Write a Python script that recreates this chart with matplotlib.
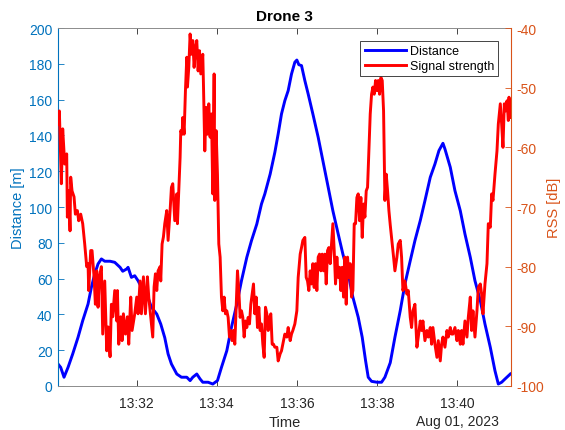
"""Drone 3: distance and signal strength over time (two y-axes)."""
import matplotlib
matplotlib.use('Agg')
import matplotlib.pyplot as plt
import matplotlib.dates as mdates
import matplotlib.transforms as mtransforms
import pandas as pd

plt.rcParams['font.family'] = ['Liberation Sans', 'DejaVu Sans']
plt.rcParams['axes.unicode_minus'] = False

base = pd.Timestamp('2023-08-01 13:30:00')

# Distance [m], time in seconds after 13:30:00
dist_t = [2, 6, 11, 17, 24, 32, 39, 47, 52, 57, 62, 67, 72, 80, 87, 95, 99, 105,
          107, 112, 117, 122, 127, 135, 142, 150, 156, 162, 167, 172, 180, 187,
          195, 200, 204, 210, 215, 219, 227, 234, 241, 247, 255, 262, 270, 277,
          285, 292, 300, 307, 312, 320, 327, 332, 337, 342, 347, 352, 357, 360,
          363, 367, 372, 377, 384, 392, 399, 407, 414, 422, 429, 437, 444, 452,
          458, 463, 467, 472, 480, 487, 492, 500, 507, 515, 522, 530, 537, 545,
          552, 560, 567, 573, 579, 582, 590, 597, 605, 612, 620, 627, 635, 642,
          650, 657, 662, 667, 672, 680]
dist_m = [12.3, 10.4, 4.9, 10.4, 17.9, 27.2, 36.5, 45.8, 55.1, 62.6, 68.2, 71.0,
          69.7, 69.7, 69.1, 66.3, 64.1, 65.4, 66.3, 60.7, 61.6, 58.8, 55.1, 51.4,
          44.0, 40.2, 34.6, 27.0, 17.9, 12.3, 6.7, 4.9, 4.9, 3.0, 4.9, 6.7, 3.9,
          2.1, 2.1, 1.1, 3.0, 10.4, 19.7, 32.8, 45.8, 58.8, 71.9, 81.2, 90.5,
          101.7, 107.3, 118.4, 130.5, 140.8, 152.0, 159.4, 165.0, 174.3, 180.9,
          182.1, 179.5, 179.0, 170.6, 163.1, 152.0, 138.9, 125.9, 111.0, 97.9,
          84.9, 73.7, 62.6, 49.6, 38.4, 27.2, 14.2, 4.9, 2.6, 2.1, 2.1, 4.9, 13.0,
          27.2, 42.1, 57.0, 70.0, 81.2, 92.4, 103.5, 116.6, 124.0, 131.5, 135.6,
          132.4, 122.2, 109.1, 97.9, 84.9, 71.9, 58.8, 47.7, 34.6, 21.6, 8.5,
          1.1, 2.1, 3.9, 6.7]

# Signal strength (RSS) [dB]
rss_t = [2, 4, 7, 9, 12, 15, 16, 18, 20, 21, 23, 26, 28, 31, 33, 36, 39, 42, 45,
         47, 48, 51, 53, 56, 58, 60, 62, 64, 67, 69, 72, 75, 77, 80, 82, 84, 87,
         90, 91, 93, 96, 98, 100, 103, 106, 108, 111, 113, 117, 120, 122, 125,
         127, 130, 133, 136, 138, 141, 144, 146, 148, 150, 152, 155, 156, 158,
         160, 162, 165, 167, 170, 172, 174, 177, 180, 181, 183, 185, 186, 188,
         189, 191, 193, 195, 196, 198, 200, 202, 204, 206, 208, 210, 212, 214,
         216, 219, 220, 222, 224, 226, 228, 230, 232, 234, 236, 237, 239, 241,
         243, 245, 247, 249, 251, 253, 255, 257, 259, 261, 263, 265, 267, 269,
         271, 273, 275, 277, 279, 281, 283, 285, 287, 289, 291, 293, 295, 297,
         299, 301, 303, 305, 307, 309, 311, 313, 315, 317, 319, 321, 323, 325,
         327, 330, 332, 335, 337, 339, 342, 345, 347, 350, 352, 354, 357, 360,
         362, 365, 367, 369, 372, 374, 376, 378, 380, 382, 384, 386, 388, 390,
         392, 394, 396, 398, 400, 402, 404, 406, 408, 410, 412, 414, 416, 418,
         420, 422, 424, 426, 428, 430, 432, 434, 436, 438, 440, 442, 444, 446,
         448, 450, 452, 454, 456, 458, 460, 462, 464, 466, 468, 470, 472, 474,
         476, 478, 480, 482, 484, 486, 488, 490, 492, 494, 496, 498, 500, 502,
         505, 507, 510, 512, 515, 517, 519, 522, 525, 527, 530, 532, 534, 537,
         540, 542, 545, 547, 549, 552, 555, 557, 560, 562, 564, 567, 570, 572,
         575, 577, 579, 582, 585, 587, 590, 592, 594, 597, 600, 602, 605, 607,
         609, 612, 615, 617, 620, 622, 624, 627, 630, 632, 635, 637, 639, 642,
         645, 647, 650, 652, 654, 657, 660, 662, 665, 667, 669, 671, 673, 675,
         677, 678, 681]
rss_db = [-56.1, -53.9, -66.1, -56.9, -62.8, -61.1, -71.7, -67.3, -74.0, -65.0,
          -67.3, -68.3, -71.2, -70.6, -72.3, -71.2, -72.8, -76.2, -80.0, -79.5,
          -84.0, -77.3, -77.3, -81.7, -86.3, -80.7, -86.8, -81.7, -80.0, -91.3,
          -82.4, -94.1, -90.1, -95.1, -86.3, -88.4, -84.0, -89.1, -84.0, -93.0,
          -88.4, -92.4, -87.9, -91.3, -88.4, -93.0, -85.1, -90.7, -87.9, -85.1,
          -87.9, -82.4, -87.9, -81.7, -87.9, -81.7, -85.1, -88.4, -91.8, -83.4,
          -81.2, -84.0, -80.7, -80.0, -82.4, -76.2, -75.0, -72.8, -70.6, -75.6,
          -70.6, -66.7, -66.1, -72.3, -67.8, -72.8, -67.3, -61.7, -57.2, -57.8,
          -55.0, -57.8, -50.5, -44.9, -49.9, -46.6, -41.0, -44.4, -42.1, -46.6,
          -43.2, -42.1, -47.2, -43.8, -47.7, -44.4, -49.4, -60.6, -53.3, -57.8,
          -52.7, -58.3, -54.4, -67.8, -47.7, -68.9, -57.2, -64.5, -76.2, -78.4,
          -85.1, -87.4, -85.1, -87.9, -87.4, -88.5, -91.8, -90.7, -92.4, -90.7,
          -93.0, -86.8, -80.7, -84.0, -88.5, -87.4, -88.5, -91.8, -89.1, -90.2,
          -88.5, -89.6, -86.3, -84.6, -82.9, -87.9, -85.1, -90.2, -86.8, -90.7,
          -89.6, -93.0, -95.2, -86.8, -87.9, -90.7, -88.5, -87.9, -93.0, -93.0,
          -93.5, -93.5, -95.8, -94.6, -94.1, -93.0, -91.3, -91.8, -90.2, -92.4,
          -91.3, -90.7, -89.6, -87.4, -81.8, -77.9, -76.8, -75.6, -75.1, -81.8,
          -82.4, -84.0, -80.7, -82.9, -79.5, -83.5, -79.5, -84.0, -78.4, -77.9,
          -80.7, -77.9, -80.7, -77.9, -82.9, -77.3, -76.8, -79.5, -76.2, -72.8,
          -77.3, -82.9, -78.4, -81.8, -80.1, -84.0, -80.1, -85.1, -78.4, -86.3,
          -78.4, -81.8, -79.5, -85.1, -84.0, -72.8, -72.8, -68.4, -67.8, -72.3,
          -68.4, -75.1, -69.5, -71.7, -67.3, -66.7, -60.6, -54.4, -51.1, -49.9,
          -51.1, -48.8, -50.5, -48.8, -51.1, -48.3, -48.8, -53.9, -68.9, -64.5,
          -67.3, -70.6, -73.0, -75.1, -78.4, -80.7, -78.4, -76.2, -75.6, -78.4,
          -84.0, -82.4, -84.6, -84.0, -88.5, -90.2, -87.4, -86.3, -93.5, -91.8,
          -89.1, -90.7, -89.1, -92.4, -90.7, -91.8, -90.2, -93.0, -90.2, -93.0,
          -95.2, -92.4, -95.8, -93.0, -91.8, -93.5, -90.7, -91.8, -90.2, -91.3,
          -91.3, -90.2, -92.4, -90.7, -93.0, -90.7, -93.0, -89.1, -91.8, -88.5,
          -85.1, -90.7, -87.4, -91.8, -87.4, -83.5, -82.9, -84.6, -87.9, -82.9,
          -79.5, -72.8, -73.4, -67.8, -68.9, -64.5, -60.6, -56.1, -52.7, -56.1,
          -60.0, -52.7, -53.9, -52.2, -55.5, -51.6, -55.0]

dist_time = base + pd.to_timedelta(dist_t, unit='s')
rss_time = base + pd.to_timedelta(rss_t, unit='s')

x_ticks = pd.to_datetime(['2023-08-01 13:32', '2023-08-01 13:34', '2023-08-01 13:36',
                          '2023-08-01 13:38', '2023-08-01 13:40'])
left_ticks = list(range(0, 201, 20))
right_ticks = list(range(-100, -39, 10))

c_left = '#0072BD'
c_right = '#D95319'
c_axis = '#262626'

fig = plt.figure(figsize=(5.65, 4.31), dpi=100)
ax = fig.add_axes([0.1027, 0.1021, 0.8017, 0.8306])
ax2 = ax.twinx()

l1, = ax.plot(dist_time, dist_m, color='#0000FF', lw=2.1, label='Distance')
l2, = ax2.plot(rss_time, rss_db, color='#FF0000', lw=2.1, label='Signal strength')

ax.set_xlim(base + pd.Timedelta(seconds=2), base + pd.Timedelta(seconds=681))
ax.set_ylim(0, 200)
ax2.set_ylim(-100, -40)
ax.set_xticks(x_ticks)
ax.xaxis.set_major_formatter(mdates.DateFormatter('%H:%M'))
ax.set_yticks(left_ticks)
ax2.set_yticks(right_ticks)

ax.tick_params(axis='x', direction='in', top=True, length=4, width=0.6,
               colors=c_axis, labelsize=10, pad=7)
ax.tick_params(axis='y', direction='in', length=4, width=0.6,
               colors=c_left, labelsize=10, pad=4)
ax2.tick_params(axis='y', direction='in', length=4, width=0.6,
                colors=c_right, labelsize=10, pad=4)

for s in ['top', 'bottom']:
    ax.spines[s].set_color('#8c8c8c')
    ax.spines[s].set_linewidth(0.7)
ax.spines['left'].set_color(c_left)
ax.spines['right'].set_visible(False)
for s in ['top', 'bottom', 'left']:
    ax2.spines[s].set_visible(False)
ax2.spines['right'].set_color(c_right)
ax.spines['left'].set_linewidth(0.8)
ax2.spines['right'].set_linewidth(0.8)

ax.set_ylabel('Distance [m]', color=c_left, fontsize=10.5, labelpad=3)
ax2.set_ylabel('RSS [dB]', color=c_right, fontsize=10.5, labelpad=2)
ax.set_xlabel('Time', color=c_axis, fontsize=10.5, labelpad=4)
ax.set_title('Drone 3', fontsize=11, fontweight='bold', color='black', pad=6)

trans = mtransforms.blended_transform_factory(ax.transData, ax.transAxes)
ax.text(x_ticks[-1], -0.098, 'Aug 01, 2023', transform=trans, ha='center',
        va='center', fontsize=10, color=c_axis)

leg = ax2.legend([l1, l2], ['Distance', 'Signal strength'], loc='upper right',
                 fontsize=9, handlelength=3.3, handletextpad=0.3,
                 borderaxespad=1.0, labelspacing=0.25, borderpad=0.35,
                 fancybox=False, framealpha=1, edgecolor=c_axis)
leg.get_frame().set_linewidth(0.6)

plt.savefig('out.png', dpi=100)
